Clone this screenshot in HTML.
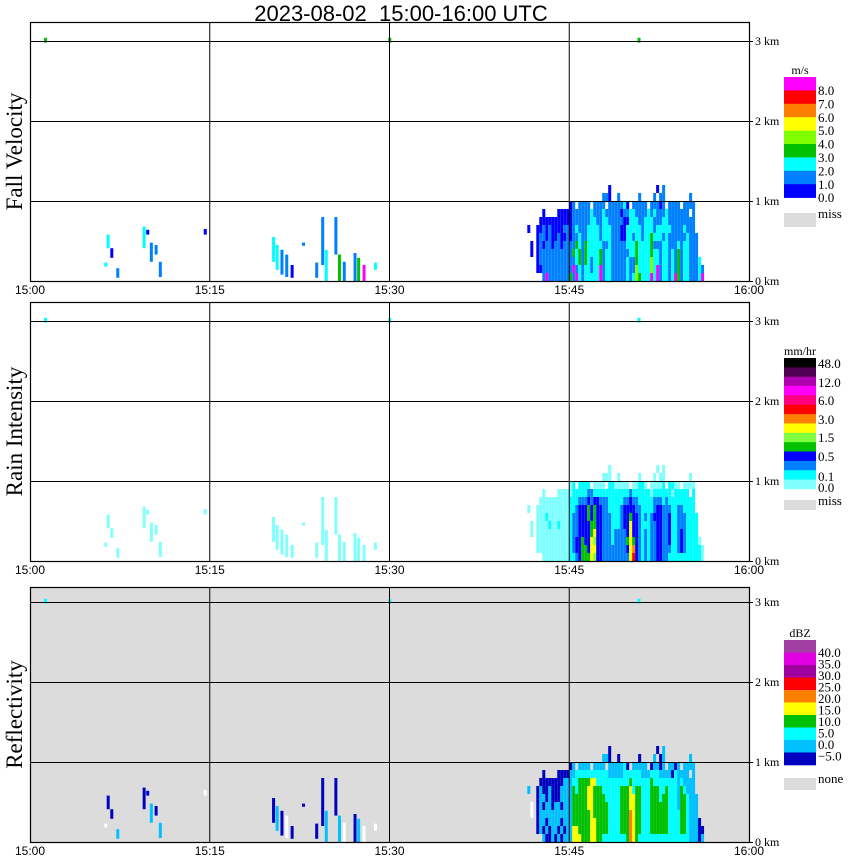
<!DOCTYPE html>
<html><head><meta charset="utf-8"><style>
html,body{margin:0;padding:0;background:#fff;}
svg{display:block;}
text{font-family:"Liberation Sans",sans-serif;}
.serif{font-family:"Liberation Serif",serif;}
</style></head><body>
<svg id="chart" width="850" height="868" viewBox="0 0 850 868" xmlns="http://www.w3.org/2000/svg">
<text x="401" y="21" font-size="22" text-anchor="middle" style="white-space:pre" xml:space="preserve">2023-08-02  15:00-16:00 UTC</text>
</svg>
<script>
// ---- data ----
const xTickLabels = ["15:00","15:15","15:30","15:45","16:00"];
const xTickMinutes = [0,15,30,45,60];
const yTickLabels = ["0 km","1 km","2 km","3 km"];
const yTickKm = [0,1,2,3];
const panelTitles = ["Fall Velocity","Rain Intensity","Reflectivity"];

const fvColors = ["#0000ff","#0080ff","#00ffff","#00c000","#80ff00","#ffff00","#ff8000","#ff0000","#ff00ff"];
const riColors = ["#80ffff","#00ffff","#0080ff","#0000ff","#00c000","#80ff40","#ffff00","#ff8000","#ff0000"];
const dbzColors = ["#0000c0","#00c0ff","#00ffff","#00c000","#ffff00","#ff8000","#ff0000","#a000a0","#e000e0"];

const fvLegendColors = ["#ff00ff","#ff0000","#ff8000","#ffff00","#80ff00","#00c000","#00ffff","#0080ff","#0000ff"];
const fvLegendLabels = ["8.0","7.0","6.0","5.0","4.0","3.0","2.0","1.0","0.0"];
const riLegendColors = ["#000000","#500050","#b000b0","#ff00ff","#ff0080","#ff0000","#ff8000","#ffff00","#80ff40","#00c000","#0000ff","#0080ff","#00ffff","#80ffff"];
const riLegendLabels = ["48.0","12.0","6.0","3.0","1.5","0.5","0.1"];
const dbzLegendColors = ["#a040a0","#e000e0","#a000a0","#ff0000","#ff8000","#ffff00","#00c000","#00ffff","#00c0ff","#0000c0"];
const dbzLegendLabels = ["40.0","35.0","30.0","25.0","20.0","15.0","10.0","5.0","0.0","\u22125.0"];

// main storm grid: columns of 0.25 min starting at minute 41.25, rows of 0.1 km from 1.2 km down to 0
const gridStartMin = 41.25;
const gridColMin = 0.25;
const gridRowKm = 0.1;
const gridTopKm = 1.2;
const fvGrid = [
".......... .......... ........1. .......... ....1.2... ..........",
".......... .......... ......221. .2......2. ...2.22... .....2....",
".......... .....12.22 22.2222.22 22231.2222 2.22212.22 22.2222...",
"......1... .111112222 2232223222 2212233222 2323222322 22222.2...",
".....11111 1111112222 2233223322 2221133322 3332223322 2222222...",
".1..112121 1112212322 2333323332 2211333332 3332333332 2223222...",
"....122121 1211212232 2333323332 2211332332 3343332322 22223222..",
"..1.121221 2212222432 4333332232 2222333433 3342223322 23233222..",
"..1.122222 2222224342 4333342332 2222233433 3343323323 24233222..",
"....122222 2222222342 4323342332 2222322433 3353323323 242332223.",
"....112222 2222229232 3323392332 2222322533 3353923323 2423322232",
"......2922 2222242932 3333392332 2222323543 3393923323 9423322239"];
const riGrid = [
".......... .......... ........1. .......... ....1.1... ..........",
".......... .......... ......111. .1......1. ...1.11... .....1....",
".......... .....12.22 22.1111.22 11111.1122 1.11112.22 11.1111...",
"......1... .111112222 2332222222 2222232222 2212222221 22222.2...",
".....11111 1111122233 3434433322 2223343322 2223332322 2222222...",
".1..111111 1111122344 4545443322 2234444332 2223443332 2332222...",
"....111211 1111123344 4545443332 2234454432 3234443342 23332222..",
"..1.111121 1211123344 4455443332 2234474432 2233443342 23332222..",
"..1.111111 1111123344 4457443332 3333474432 3233443342 23432222..",
"....111111 1111123445 4476443332 3333575432 3233443342 234322221.",
"....111111 1111123445 5477443333 3333478432 3233443332 2343222221",
"......1111 1111122345 5576443333 3333379432 3233443322 2222222221"];
const dbzGrid = [
".......... .......... ........1. .......... ....1.2... ..........",
".......... .......... ......221. .1......1. ...2.12... .....2....",
".......... .....12.22 22.2222.22 22231.2222 2.12212.22 12.2222...",
"......1... .111122333 3333333322 2223333332 2233322221 32222.2...",
".....11111 1112223344 4455333333 3333343333 3343333333 3232222...",
".2..121121 1122224344 4554443333 3344453443 3344433433 3243222...",
"....122121 1122224444 4554444333 3344455443 3344434433 32443222..",
"..w.121221 2212224444 4554444433 3344455443 3344444433 32443222..",
"..w.122222 2222224444 4454444433 3344465443 3344444433 33443222..",
"....122122 2212224444 4455444433 3344465443 3344444433 334432221.",
"....121212 2121225544 4455444433 3344465443 3344444433 3344322211",
"......2112 1212225554 4455443333 3333465433 3333333333 3333322212"];

// sparse echoes outside main storm
const sparseMin = [1.17,29.9,50.7,6.4,6.7,6.2,7.2,9.4,9.7,10.0,10.4,10.75,14.5,20.2,20.5,20.9,21.3,21.75,22.7,23.8,24.3,24.6,25.4,25.7,26.1,27.0,27.3,27.75,28.7];
const sparseBot = [2.98,2.98,2.98,0.41,0.29,0.18,0.04,0.41,0.58,0.24,0.33,0.05,0.58,0.24,0.14,0.08,0.05,0.04,0.44,0.04,0.2,0.0,0.33,0.0,0.0,0.0,0.0,0.0,0.14];
const sparseTop = [3.04,3.04,3.04,0.58,0.41,0.23,0.16,0.68,0.64,0.48,0.45,0.24,0.65,0.55,0.45,0.39,0.33,0.2,0.48,0.23,0.8,0.39,0.8,0.33,0.24,0.35,0.29,0.2,0.23];
const sparseFv = ["4","4","4","3","1","3","2","3","1","2","2","2","1","3","3","2","2","1","2","2","2","3","2","4","2","2","4","9","3"];
const sparseRi = ["2","2","2","1","1","1","1","1","1","1","1","1","1","1","1","1","1","1","1","1","1","1","1","1","1","1","1","1","1"];
const sparseDbz = ["3","3","3","1","1","w","2","1","1","2","1","2","w","1","2","1","w","1","1","1","1","2","1","2","w","1","2","w","w"];

// ---- layout ----
const X0 = 30, X1 = 749, PXPERMIN = (X1 - X0) / 60, PXPERKM = 80;
const panels = [
  {top:22, zero:281, bg:"#ffffff", grid:fvGrid, colors:fvColors, sparse:sparseFv, name:"fall-velocity"},
  {top:302, zero:561, bg:"#ffffff", grid:riGrid, colors:riColors, sparse:sparseRi, name:"rain-intensity"},
  {top:587, zero:842, bg:"#dcdcdc", grid:dbzGrid, colors:dbzColors, sparse:sparseDbz, name:"reflectivity"}
];
const NS = "http://www.w3.org/2000/svg";
const svg = document.getElementById("chart");
function mk(tag, attrs, parent){ const e = document.createElementNS(NS, tag); for (const k in attrs) e.setAttribute(k, attrs[k]); (parent||svg).appendChild(e); return e; }
function xs(m){ return X0 + m * PXPERMIN; }
function ys(p, km){ return p.zero - km * PXPERKM; }
function colorOf(p, ch){ if (ch === "w") return "#ffffff"; return p.colors[parseInt(ch,10)-1]; }

panels.forEach((p, pi) => {
  const g = mk("g", {});
  
  
  const bg = mk("rect", {x:X0, y:p.top, width:X1-X0, height:p.zero-p.top, fill:p.bg}, g);
  
  
  const rows = p.grid.map(r => r.replace(/ /g, ""));
  rows.forEach((row, ri) => {
    const kmTop = gridTopKm - ri * gridRowKm;
    for (let ci = 0; ci < row.length; ci++) {
      const ch = row[ci];
      if (ch === ".") continue;
      const m = gridStartMin + ci * gridColMin;
      const c = mk("rect", {x:xs(m), y:ys(p, kmTop), width:xs(m+gridColMin)-xs(m), height:gridRowKm*PXPERKM, fill:colorOf(p, ch)}, g);
      
      
    }
  });
  sparseMin.forEach((m, i) => {
    const c = mk("rect", {x:xs(m), y:ys(p, sparseTop[i]), width:3, height:(sparseTop[i]-sparseBot[i])*PXPERKM, fill:colorOf(p, p.sparse[i])}, g);
    
    
  });
  xTickMinutes.slice(1,4).forEach(m => {
    const l = mk("line", {x1:xs(m), x2:xs(m), y1:p.top, y2:p.zero, stroke:"#000", "stroke-width":1}, g);
    
    
  });
  yTickKm.slice(1).forEach(k => {
    const l = mk("line", {x1:X0, x2:X1, y1:ys(p,k)+0.5, y2:ys(p,k)+0.5, stroke:"#000", "stroke-width":1}, g);
    
    
  });
  const fr = mk("rect", {x:X0+0.5, y:p.top+0.5, width:X1-X0, height:p.zero-p.top, fill:"none", stroke:"#000", "stroke-width":1.2}, g);
  
  
  yTickKm.forEach((k, i) => {
    const t = mk("text", {x:755, y:ys(p,k)+4, "font-size":12, class:"serif"}, g);
    t.textContent = yTickLabels[i];
    
    
    const tk = mk("line", {x1:X1, x2:X1+4, y1:ys(p,k)+0.5, y2:ys(p,k)+0.5, stroke:"#000"}, g);
    
    
  });
  xTickMinutes.forEach((m, i) => {
    const t = mk("text", {x:xs(m), y:p.zero+13, "font-size":12, "text-anchor":"middle"}, g);
    t.textContent = xTickLabels[i];
    
    
  });
  const cy = (p.top + p.zero) / 2;
  const tt = mk("text", {x:22, y:cy, "font-size":23, "text-anchor":"middle", class:"serif", transform:"rotate(-90 22 "+cy+")"}, g);
  tt.textContent = panelTitles[pi];
  
  
});

function legend(name, unit, colors, labels, top, boxH, labelYs, missLabel, missY, missH){
  const g = mk("g", {});
  
  
  const u = mk("text", {x:800, y:top-3, "font-size":12, "text-anchor":"middle", class:"serif"}, g);
  u.textContent = unit;
  
  
  colors.forEach((c, i) => {
    const r = mk("rect", {x:784, y:top+i*boxH, width:32, height:boxH+0.3, fill:c}, g);
    
    
  });
  labels.forEach((l, i) => {
    const t = mk("text", {x:818, y:labelYs[i], "font-size":13, class:"serif"}, g);
    t.textContent = l;
    
    
  });
  const mr = mk("rect", {x:784, y:missY, width:32, height:missH, fill:"#dcdcdc"}, g);
  
  
  const mt = mk("text", {x:818, y:missY+5, "font-size":13, class:"serif"}, g);
  mt.textContent = missLabel;
  
  
}
legend("fall-velocity-legend", "m/s", fvLegendColors, fvLegendLabels, 77, 13.4,
  fvLegendLabels.map((l,i)=>95+i*13.4), "miss", 213, 14);
legend("rain-intensity-legend", "mm/hr", riLegendColors, riLegendLabels, 358, 9.35,
  [368,387,405,424,442,461,481], "miss", 500, 10);
legend("reflectivity-legend", "dBZ", dbzLegendColors, dbzLegendLabels, 640, 12.5,
  dbzLegendLabels.map((l,i)=>657+i*11.5), "none", 778, 12);
const z = mk("text", {x:818, y:492, "font-size":13, class:"serif"});
z.textContent = "0.0";


</script>
</body></html>
